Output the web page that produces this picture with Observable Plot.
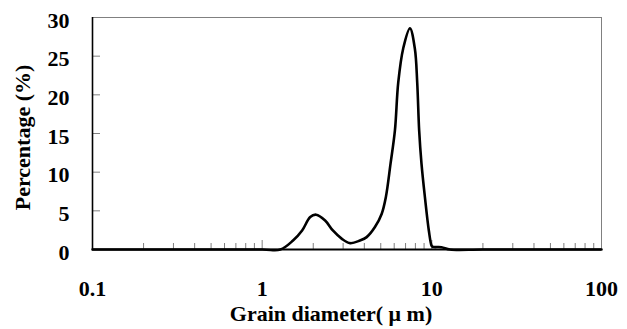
<!DOCTYPE html>
<html>
<head>
<meta charset="utf-8">
<script src="https://cdn.jsdelivr.net/npm/d3@7"></script>
<script src="https://cdn.jsdelivr.net/npm/@observablehq/plot@0.6"></script>
<style>
  html, body { margin: 0; padding: 0; background: #fff; }
</style>
</head>
<body>
<div id="chart"></div>
<script>
// Grain diameter (µm) and percentage (%)
const diameter = [0.1, 1.0, 1.28, 1.52, 1.72, 1.92, 2.08, 2.35, 2.61, 2.95, 3.30, 3.77, 4.13, 4.62, 5.06, 5.36, 5.71, 6.06, 6.34, 6.78, 7.43, 7.94, 8.20, 8.42, 8.69, 9.10, 9.60, 9.96, 10.1, 11.4, 12.8, 20, 100];
const percentage = [0, 0, 0, 1.16, 2.46, 4.2, 4.5, 3.75, 2.46, 1.38, 0.82, 1.16, 1.6, 2.9, 4.6, 6.8, 11.1, 15.4, 21.6, 26.0, 28.6, 26.0, 21.6, 15.4, 11.1, 6.8, 2.46, 0.5, 0.35, 0.3, 0, 0, 0];
const xTicks = [0.1, 1, 10, 100];
const yTicks = [0, 5, 10, 15, 20, 25, 30];
const xTitle = "Grain diameter( μ m)";
const yTitle = "Percentage (%)";
const minorX = [];
for (const dec of [0.1, 1, 10]) for (let k = 2; k <= 9; k++) minorX.push(+(dec * k).toPrecision(3));

const data = diameter.map((d, i) => ({d, p: percentage[i]}));
const font = "'Liberation Serif', 'Times New Roman', serif";

const chart = Plot.plot({
  width: 627,
  height: 329,
  marginLeft: 92,
  marginRight: 26,
  marginTop: 17,
  marginBottom: 80,
  style: {fontFamily: font, fontWeight: "bold", fontSize: "22px", background: "#fff", color: "#000"},
  x: {type: "log", domain: [0.1, 100]},
  y: {domain: [0, 30]},
  marks: [
    Plot.frame({stroke: "#808080", strokeWidth: 1}),
    Plot.tickY(yTicks.slice(1, -1), {y: d => d, stroke: "#808080", strokeWidth: 1, insetRight: 501}),
    Plot.tickX(minorX, {x: d => d, stroke: "#808080", strokeWidth: 1, insetTop: 226}),
    Plot.tickX([1, 10], {x: d => d, stroke: "#808080", strokeWidth: 1, insetTop: 223}),
    Plot.line(data, {x: "d", y: "p", stroke: "#000", strokeWidth: 2.6, curve: "catmull-rom"}),
    Plot.ruleY([0], {stroke: "#000", strokeWidth: 2.2}),
    Plot.ruleX([0.1], {stroke: "#000", strokeWidth: 1.6}),
    Plot.axisY(yTicks, {tickSize: 0, tickPadding: 23, fontSize: 22, fontWeight: "bold", dy: 3,
      label: null, tickFormat: d => d}),
    Plot.axisX(xTicks, {tickSize: 0, tickPadding: 31, fontSize: 22, fontWeight: "bold",
      label: null, tickFormat: d => String(d)}),
    Plot.text([xTitle], {frameAnchor: "bottom", text: d => d, fontSize: 22, fontWeight: "bold",
      textAnchor: "middle", lineAnchor: "middle", dy: 64, dx: -16}),
    Plot.text([yTitle], {frameAnchor: "left", text: d => d, fontSize: 22, fontWeight: "bold",
      textAnchor: "middle", rotate: -90, lineAnchor: "middle", dx: -70, dy: 4})
  ]
});
document.getElementById("chart").appendChild(chart);
</script>
</body>
</html>
